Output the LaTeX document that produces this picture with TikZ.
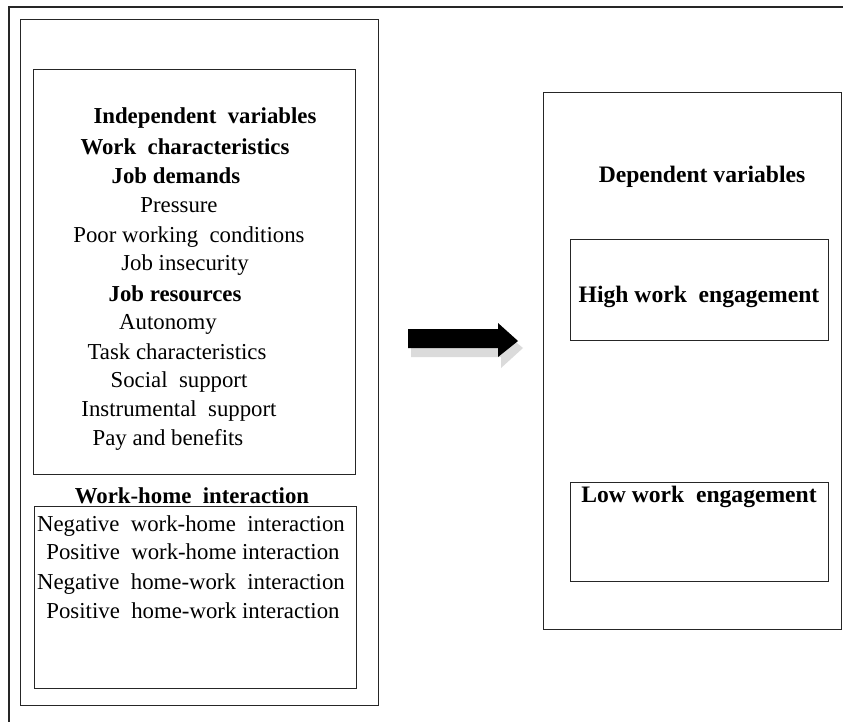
\documentclass[tikz,border=0pt]{standalone}
\usepackage{fontspec}
\setmainfont{Liberation Serif}
\begin{document}
\begin{tikzpicture}[x=1pt,y=-1pt,
  frame/.style={draw=black!85,line width=1.3pt,rectangle,anchor=north west,inner sep=0pt},
  lbl/.style={anchor=base,inner sep=0pt,font=\fontsize{22.8}{27}\selectfont},
  head/.style={lbl,font=\fontsize{22.8}{27}\selectfont\bfseries},
  rhead/.style={lbl,font=\fontsize{23.6}{27}\selectfont\bfseries}]
\useasboundingbox (0,0) rectangle (843,722);
\fill[white] (0,0) rectangle (843,722);

% page frame (only its top and left edges fall inside the picture)
\coordinate (pfb) at (9,722);
\coordinate (pft) at (9,7);
\coordinate (pfr) at (843,7);
\draw[black!85,line width=1.3pt] (pfb) -- (pft) -- (pfr);

% left column
\node[frame,minimum width=358,minimum height=686] (leftcol) at (20,19) {};
\node[frame,minimum width=322,minimum height=405] (indep) at (33,69) {};
\node[frame,minimum width=322,minimum height=182] (whbox) at (34,506) {};

\node[head] (t1) at (205,124) {Independent\ \ variables};
\node[head] (t2) at (185,155) {Work\ \ characteristics};
\node[head] (t3) at (176,184) {Job demands};
\node[lbl] (t4) at (179,213) {Pressure};
\node[lbl] (t5) at (189,242) {Poor working\ \ conditions};
\node[lbl] (t6) at (185,270) {Job insecurity};
\node[head] (t7) at (175,301) {Job resources};
\node[lbl] (t8) at (168,329) {Autonomy};
\node[lbl] (t9) at (177,359) {Task characteristics};
\node[lbl] (t10) at (179,387) {Social\ \ support};
\node[lbl] (t11) at (179,416) {Instrumental\ \ support};
\node[lbl] (t12) at (168,445) {Pay and benefits};

\node[head] (w0) at (192,503) {Work-home\ \ interaction};
\node[lbl] (w1) at (191,531) {Negative\ \ work-home\ \ interaction};
\node[lbl] (w2) at (193,559) {Positive\ \ work-home\ interaction};
\node[lbl] (w3) at (191,589) {Negative\ \ home-work\ \ interaction};
\node[lbl] (w4) at (193,618) {Positive\ \ home-work\ interaction};

% right column
\node[frame,minimum width=298,minimum height=537] (dep) at (543,92) {};
\node[frame,minimum width=258,minimum height=101] (high) at (570,239) {};
\node[frame,minimum width=258,minimum height=99] (low) at (570,482) {};

\node[rhead] (d0) at (702,183) {Dependent variables};
\node[rhead] (d1) at (699,302) {High\ work\ \ engagement};
\node[rhead] (d2) at (699,502) {Low\ work\ \ engagement};

% block arrow with its soft shadow
\fill[black!14] (411,336) -- (501,336) -- (501,330) -- (523,348)
  -- (501,368) -- (501,357) -- (411,357) -- cycle;
\fill[black] (408,329) -- (498,329) -- (498,323) -- (518,341)
  -- (498,357) -- (498,348) -- (408,348) -- cycle;
\end{tikzpicture}
\end{document}
